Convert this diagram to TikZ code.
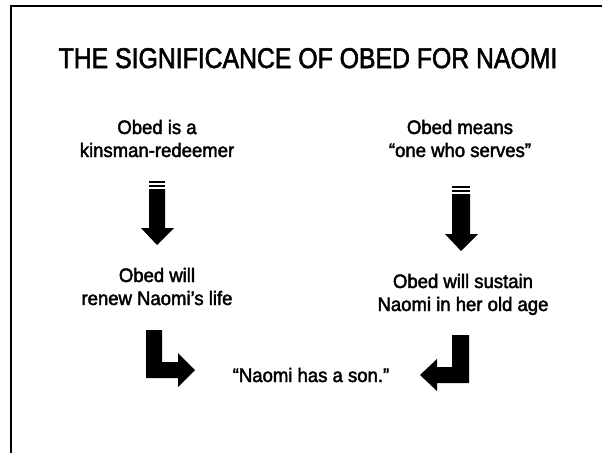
\documentclass[tikz,border=0pt]{standalone}
\usepackage{fontspec}
\setmainfont{Liberation Sans}[FakeStretch=0.95, FakeBold=2.2]
\newfontfamily\titlefont{Liberation Sans}[FakeStretch=0.87, FakeBold=2]
\begin{document}
\begin{tikzpicture}[x=1pt,y=-1pt,
  body/.style={font=\fontsize{19.5}{23}\selectfont, anchor=base, inner sep=0pt},
  blockarrow/.style={fill=black, draw=none}]
\useasboundingbox (0,0) rectangle (602,453);
% frame
\draw[line width=2pt] (11,453) -- (11,6) -- (602,6);
% title
\node[font=\titlefont\fontsize{28.5}{30}\selectfont, anchor=base, inner sep=0pt] (title) at (308,68) {THE SIGNIFICANCE OF OBED FOR NAOMI};
% left column
\node[body] (l1) at (157,134) {Obed is a};
\node[body] (l2) at (157,157) {kinsman-redeemer};
\node[body] (l3) at (157,282) {Obed will};
\node[body] (l4) at (157,305) {renew Naomi’s life};
% right column
\node[body] (r1) at (460,134) {Obed means};
\node[body] (r2) at (460,157) {“one who serves”};
\node[body] (r3) at (463,288) {Obed will sustain};
\node[body] (r4) at (463,311) {Naomi in her old age};
% bottom
\node[body] (son) at (311,382) {“Naomi has a son.”};
% down arrow left
\fill[blockarrow] (149,181) rectangle (165,183);
\fill[blockarrow] (149,185) rectangle (165,187);
\fill[blockarrow] (149,189) -- (165,189) -- (165,228) -- (174,228) -- (157,245) -- (141,228) -- (149,228) -- cycle;
% down arrow right
\fill[blockarrow] (452,186) rectangle (470,188);
\fill[blockarrow] (452,190) rectangle (470,192);
\fill[blockarrow] (452,194) -- (470,194) -- (470,234) -- (478,234) -- (461,251) -- (445,234) -- (452,234) -- cycle;
% bent arrow left
\fill[blockarrow] (146,330) -- (162,330) -- (162,362) -- (178,362) -- (178,353) -- (195,370) -- (178,387) -- (178,378) -- (146,378) -- cycle;
% bent arrow right
\fill[blockarrow] (452,335) -- (469,335) -- (469,383) -- (437,383) -- (437,391) -- (420,375) -- (437,359) -- (437,367) -- (452,367) -- cycle;
\end{tikzpicture}
\end{document}
